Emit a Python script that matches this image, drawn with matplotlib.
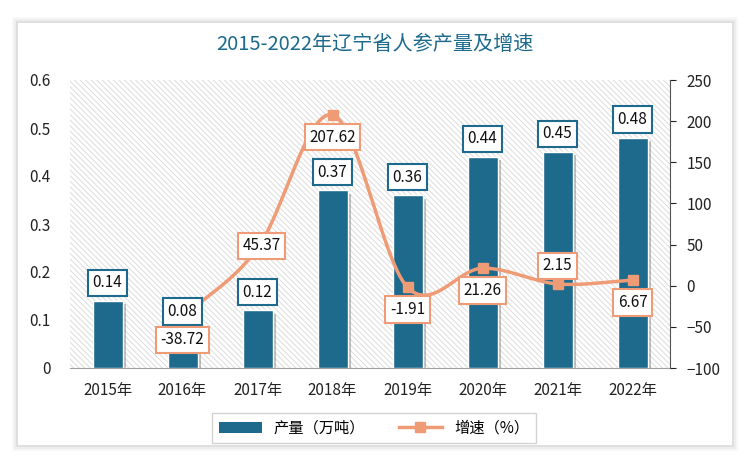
import numpy as np
import matplotlib
matplotlib.use("Agg")
import matplotlib.pyplot as plt
from matplotlib.patches import FancyBboxPatch, Rectangle
from matplotlib.lines import Line2D
import matplotlib.patheffects as pe

plt.rcParams['font.family'] = ['Noto Sans CJK SC', 'DejaVu Sans']
plt.rcParams['hatch.linewidth'] = 0.7

years = ['2015年', '2016年', '2017年', '2018年', '2019年', '2020年', '2021年', '2022年']
output = [0.14, 0.08, 0.12, 0.37, 0.36, 0.44, 0.45, 0.48]
growth = [None, -38.72, 45.37, 207.62, -1.91, 21.26, 2.15, 6.67]
growth_label_pos = [None, 'below', 'center', 'below', 'below', 'below', 'above', 'below']

BLUE = '#1D6A8D'
ORANGE = '#EE9B76'

fig = plt.figure(figsize=(7.5, 4.71), dpi=100)
fig.patch.set_facecolor('white')

# card with shadow
for i, a in enumerate([0.03, 0.04, 0.06]):
    d = (3 - i) * 2
    fig.patches.append(FancyBboxPatch((18/750 - d/750, 26/471 - d/471), (714 + 2*d)/750, (422 + 2*d)/471,
                                      boxstyle='square,pad=0', transform=fig.transFigure,
                                      facecolor='black', alpha=a, edgecolor='none', zorder=0))
fig.patches.append(Rectangle((18/750, 26/471), 714/750, 422/471, transform=fig.transFigure,
                             facecolor='white', edgecolor='none', zorder=0.5))

ax = fig.add_axes([70/750, 1 - 368/471, 600/750, 288/471])
ax.set_zorder(1)
ax.patch.set_facecolor('white')
ax.patch.set_hatch('\\\\\\\\\\\\')
ax.patch.set_edgecolor('#DCDCDC')
ax.patch.set_linewidth(0)

x = np.arange(len(years))
ax.bar(x, output, width=0.4, color=BLUE, edgecolor='white', linewidth=1.0, zorder=3,
       path_effects=[pe.SimplePatchShadow(offset=(2.5, -2.5), shadow_rgbFace='#606060', alpha=0.4), pe.Normal()])
ax.set_xlim(-0.5, len(years) - 0.5)
ax.set_ylim(0, 0.6)
ax.set_yticks(np.arange(0, 0.61, 0.1))
ax.set_yticklabels(['0', '0.1', '0.2', '0.3', '0.4', '0.5', '0.6'])
ax.set_xticks(x)
ax.set_xticklabels(years)
ax.tick_params(axis='y', length=0, labelsize=11, colors='#222222', pad=14)
ax.tick_params(axis='x', length=0, labelsize=11, colors='#222222', pad=10)
for s in ['top', 'right', 'left']:
    ax.spines[s].set_visible(False)
ax.spines['bottom'].set_color('#A0A0A0')

ax2 = ax.twinx()
ax2.set_zorder(2)
ax2.patch.set_visible(False)
ax2.set_ylim(-100, 250)
ax2.set_yticks(np.arange(-100, 251, 50))
ax2.tick_params(axis='y', labelsize=11, colors='#222222', length=4, width=0.8, pad=8)
for s in ['top', 'left', 'bottom']:
    ax2.spines[s].set_visible(False)
ax2.spines['right'].set_color('#555555')

gx = np.array([xi for xi, g in zip(x, growth) if g is not None], dtype=float)
gy = np.array([g for g in growth if g is not None], dtype=float)

# Catmull-Rom smoothing for display
def catmull(px, py, n=30):
    P = np.column_stack([px, py])
    P = np.vstack([P[0] - (P[1] - P[0]), P, P[-1] + (P[-1] - P[-2])])
    out = []
    for i in range(1, len(P) - 2):
        p0, p1, p2, p3 = P[i-1], P[i], P[i+1], P[i+2]
        t = np.linspace(0, 1, n)[:, None]
        c = 0.5 * ((2*p1) + (-p0 + p2)*t + (2*p0 - 5*p1 + 4*p2 - p3)*t**2 + (-p0 + 3*p1 - 3*p2 + p3)*t**3)
        out.append(c)
    return np.vstack(out)

curve = catmull(gx, gy)
ax2.plot(curve[:, 0], curve[:, 1], color=ORANGE, lw=2.5, zorder=2, solid_capstyle='round')
ax2.plot(gx, gy, 's', color=ORANGE, markersize=7, zorder=3)

# bar labels (on top axes, so they sit above the line)
for xi, v in zip(x, output):
    ax2.annotate(f'{v:.2f}', (xi, v), xycoords=ax.transData, xytext=(0, 13), textcoords='offset points',
                 ha='center', va='center', fontsize=11, color='#111111', zorder=6,
                 bbox=dict(boxstyle='square,pad=0.3', facecolor='white', edgecolor=BLUE, linewidth=1.5))

for xi, g, pos in zip(x, growth, growth_label_pos):
    if g is None:
        continue
    off = {'below': -16, 'above': 13, 'center': 2}[pos]
    ax2.annotate(f'{g:.2f}', (xi, g), xytext=(0 if pos != 'center' else 3, off), textcoords='offset points',
                 ha='center', va='center', fontsize=11, color='#111111', zorder=7,
                 bbox=dict(boxstyle='square,pad=0.3', facecolor='white', edgecolor=ORANGE, linewidth=1.5))

fig.text(0.5, 1 - 45/471, '2015-2022年辽宁省人参产量及增速', ha='center', va='center',
         fontsize=14.5, color=BLUE)

# legend
handles = [Rectangle((0, 0), 1, 1, facecolor=BLUE, edgecolor='none'),
           Line2D([0], [0], color=ORANGE, lw=2.5, marker='s', markersize=7)]
leg = fig.legend(handles, ['产量（万吨）', '增速（%）'], loc='center', bbox_to_anchor=(374/750, 1 - 428/471),
                 ncol=2, frameon=True, fontsize=11, handlelength=2.8, columnspacing=2.2,
                 borderpad=0.45, fancybox=False)
leg.set_zorder(5)
leg.get_frame().set_edgecolor('#C8C8C8')
leg.get_frame().set_linewidth(1)

fig.savefig('out.png', dpi=100)
